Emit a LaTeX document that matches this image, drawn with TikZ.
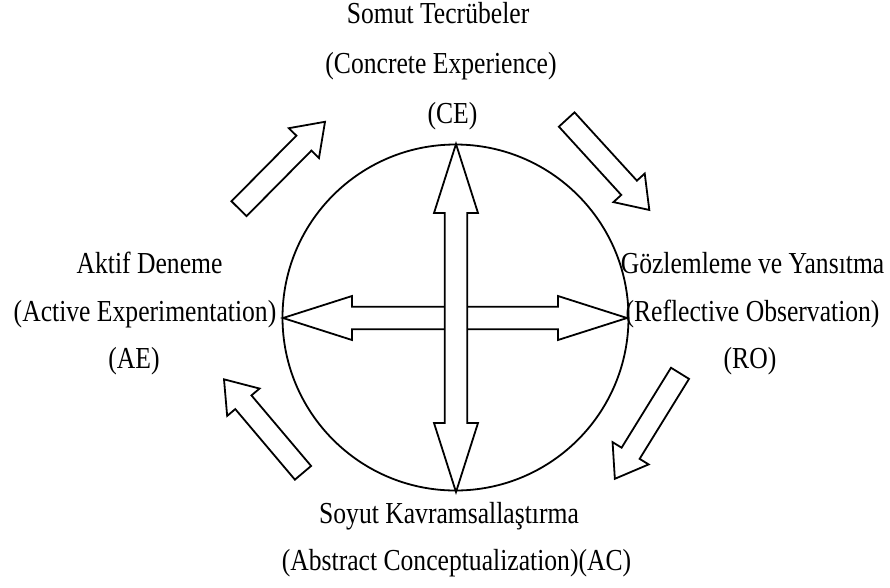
\documentclass[tikz,border=0pt]{standalone}
\usepackage{fontspec}
\setmainfont{Liberation Serif}[FakeStretch=0.84]
\newcommand\blockarr[3]{% #1 tail centre, #2 angle, #3 length
  \begin{scope}[shift={#1},rotate=#2]
    \path[outl] (0,-10.6) -- ({#3-30},-10.6) -- ({#3-30},-21.2) -- (#3,0)
      -- ({#3-30},21.2) -- ({#3-30},10.6) -- (0,10.6) -- cycle;
  \end{scope}}
\newcommand\dblarr[3]{% #1 centre, #2 angle, #3 length
  \begin{scope}[shift={#1},rotate=#2]
    \path[outl] ({-#3/2},0) -- ({-#3/2+69},-22) -- ({-#3/2+69},-11.3)
      -- ({#3/2-69},-11.3) -- ({#3/2-69},-22) -- ({#3/2},0)
      -- ({#3/2-69},22) -- ({#3/2-69},11.3) -- ({-#3/2+69},11.3)
      -- ({-#3/2+69},22) -- cycle;
  \end{scope}}
\begin{document}
\begin{tikzpicture}[x=1pt,y=-1pt,
  txt/.style={anchor=base, inner sep=0pt, font=\fontsize{30.5}{36}\selectfont},
  outl/.style={draw=black, line width=1.8pt, fill=white, line join=miter},
  ring/.style={circle, draw=black, line width=1.8pt, minimum size=346pt, inner sep=0pt}]
\useasboundingbox (0,0) rectangle (890,587);
\node[ring] (c) at (455.5,317.5) {};
% cross
\dblarr{(455,318)}{0}{344}
\dblarr{(456,318)}{90}{348}
% cycle arrows
\blockarr{(239,208.7)}{45.3}{122.3}
\blockarr{(566.7,119.5)}{-47.6}{122.5}
\blockarr{(680,373.3)}{-121.7}{124}
\blockarr{(303,472.8)}{130.2}{122.4}
% texts
\node[txt] (ce1) at (438,23) {Somut Tecrübeler};
\node[txt] (ce2) at (441,73) {(Concrete Experience)};
\node[txt] (ce3) at (452.5,123) {(CE)};
\node[txt] (ae1) at (149.5,273.3) {Aktif Deneme};
\node[txt] (ae2) at (145,321.7) {(Active Experimentation)};
\node[txt] (ae3) at (134,368.3) {(AE)};
\node[txt] (ro1) at (752.5,273.3) {Gözlemleme ve Yansıtma};
\node[txt] (ro2) at (752.5,321.7) {(Reflective Observation)};
\node[txt] (ro3) at (750,368.3) {(RO)};
\node[txt] (ac1) at (449,523.3) {Soyut Kavramsallaştırma};
\node[txt] (ac2) at (456.5,570) {(Abstract Conceptualization)(AC)};
\end{tikzpicture}
\end{document}
